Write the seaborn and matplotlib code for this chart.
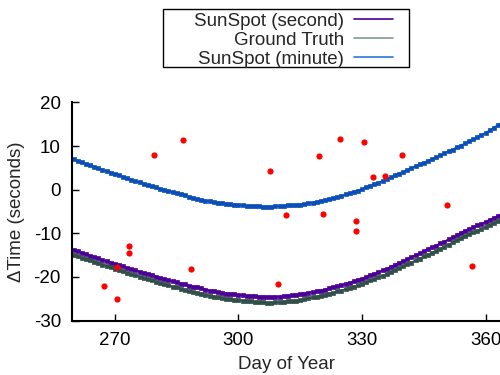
import numpy as np
import pandas as pd
import matplotlib
matplotlib.use('Agg')
import matplotlib.pyplot as plt
import seaborn as sns
from matplotlib.lines import Line2D
from matplotlib.patches import Rectangle

# 每日曲线 (day 260 - 364)
days = list(range(260, 365))

sunspot_second = [
    -13.8, -14.1, -14.5, -14.8, -15.1, -15.4, -15.7, -16.1, -16.4, -16.7,
    -17.0, -17.3, -17.6, -17.9, -18.2, -18.5, -18.8, -19.1, -19.4, -19.6,
    -19.9, -20.2, -20.5, -20.7, -21.0, -21.2, -21.5, -21.7, -22.0, -22.2,
    -22.4, -22.6, -22.9, -23.1, -23.3, -23.5, -23.6, -23.8, -23.9, -24.0,
    -24.1, -24.2, -24.3, -24.4, -24.4, -24.5, -24.5, -24.6, -24.6, -24.5,
    -24.5, -24.4, -24.3, -24.2, -24.1, -24.0, -23.8, -23.6, -23.5, -23.3,
    -23.1, -22.9, -22.6, -22.4, -22.1, -21.9, -21.6, -21.3, -21.0, -20.7,
    -20.4, -20.0, -19.6, -19.3, -18.9, -18.5, -18.1, -17.7, -17.2, -16.8,
    -16.4, -15.9, -15.5, -15.0, -14.6, -14.1, -13.7, -13.2, -12.8, -12.3,
    -11.9, -11.4, -10.9, -10.4, -9.9, -9.4, -9.0, -8.6, -8.2, -7.8,
    -7.4, -6.9, -6.5, -6.0, -5.5,
]

ground_truth = [
    -14.9, -15.2, -15.6, -15.9, -16.2, -16.5, -16.8, -17.2, -17.5, -17.8,
    -18.1, -18.4, -18.7, -19.0, -19.3, -19.6, -19.9, -20.2, -20.5, -20.8,
    -21.1, -21.4, -21.7, -21.9, -22.2, -22.4, -22.7, -22.9, -23.2, -23.4,
    -23.6, -23.8, -24.1, -24.3, -24.5, -24.7, -24.8, -25.0, -25.1, -25.2,
    -25.3, -25.4, -25.5, -25.6, -25.7, -25.8, -25.8, -25.9, -25.9, -25.8,
    -25.8, -25.7, -25.6, -25.5, -25.4, -25.3, -25.1, -24.9, -24.7, -24.5,
    -24.3, -24.1, -23.8, -23.6, -23.3, -23.1, -22.8, -22.5, -22.2, -21.9,
    -21.6, -21.2, -20.8, -20.5, -20.1, -19.7, -19.3, -18.9, -18.4, -18.0,
    -17.6, -17.1, -16.7, -16.2, -15.8, -15.3, -14.9, -14.4, -14.0, -13.5,
    -13.1, -12.6, -12.1, -11.6, -11.1, -10.6, -10.2, -9.8, -9.4, -9.0,
    -8.6, -8.1, -7.7, -7.2, -6.7,
]

sunspot_minute = [
    7.0, 6.6, 6.3, 5.9, 5.6, 5.2, 4.9, 4.6, 4.2, 3.9,
    3.6, 3.3, 2.9, 2.6, 2.3, 2.0, 1.7, 1.4, 1.1, 0.8,
    0.5, 0.2, 0.0, -0.3, -0.6, -0.8, -1.1, -1.3, -1.6, -1.8,
    -2.1, -2.3, -2.5, -2.7, -2.8, -3.0, -3.1, -3.2, -3.3, -3.4,
    -3.5, -3.6, -3.7, -3.7, -3.8, -3.8, -3.9, -3.9, -3.9, -3.8,
    -3.8, -3.7, -3.6, -3.6, -3.5, -3.4, -3.3, -3.1, -3.0, -2.8,
    -2.6, -2.4, -2.2, -1.9, -1.7, -1.4, -1.1, -0.8, -0.5, -0.2,
    0.1, 0.5, 0.9, 1.2, 1.6, 2.0, 2.4, 2.8, 3.3, 3.7,
    4.1, 4.5, 4.9, 5.4, 5.8, 6.2, 6.6, 7.0, 7.4, 7.9,
    8.3, 8.8, 9.2, 9.7, 10.1, 10.6, 11.1, 11.5, 12.0, 12.5,
    13.0, 13.6, 14.2, 14.8, 15.4,
]

# 红色测量点
sample_day = [267.4, 270.5, 270.5, 273.5, 273.5, 279.5, 286.6, 288.5, 307.6, 309.6, 311.6,
              319.6, 320.6, 324.6, 328.6, 328.6, 330.6, 332.6, 335.6, 339.6, 350.6, 356.7]
sample_dt = [-22.1, -25.1, -17.7, -13.0, -14.5, 7.9, 11.3, -18.2, 4.3, -21.7, -5.8,
             7.8, -5.6, 11.6, -7.1, -9.5, 11.0, 2.9, 3.1, 7.9, -3.4, -17.5]

series_names = ['SunSpot (second)', 'Ground Truth', 'SunSpot (minute)']
series_colors = ['#4b0096', '#2f4f48', '#0a4fb8']
legend_colors = ['#4b0096', '#7f9a90', '#2a78d8']

curves = pd.DataFrame({
    'day': days * 3,
    'dt': sunspot_second + ground_truth + sunspot_minute,
    'series': np.repeat(series_names, len(days)),
})
samples = pd.DataFrame({'day': sample_day, 'dt': sample_dt})

sns.set_style('ticks')
plt.rcParams['font.family'] = ['Liberation Sans', 'DejaVu Sans']
plt.rcParams['font.size'] = 13.5
plt.rcParams['axes.unicode_minus'] = False

W, H = 500, 375
fig = plt.figure(figsize=(5, 3.75), dpi=100)
ax = fig.add_axes([0.144, 0.145, 0.856, 0.582])

for name, color in zip(series_names, series_colors):
    sns.lineplot(data=curves[curves['series'] == name], x='day', y='dt', ax=ax,
                 color=color, linewidth=1.3, marker='s', markersize=2.8,
                 markeredgewidth=0.5, markeredgecolor=color, legend=False)

sns.scatterplot(data=samples, x='day', y='dt', ax=ax, color='#ff0000',
                s=20, linewidth=0, zorder=5, legend=False)

ax.set_xlim(259.6, 363.5)
ax.set_ylim(-30, 20)
ax.set_xticks([270, 300, 330, 360])
ax.set_yticks([-30, -20, -10, 0, 10, 20])
ax.tick_params(direction='in', length=5, width=1, labelsize=13.5, colors='black', pad=8)
ax.set_xlabel('Day of Year', fontsize=13.5, labelpad=5)
ax.set_ylabel('ΔTime (seconds)', fontsize=13.5, labelpad=6)
for side in ['top', 'right']:
    ax.spines[side].set_visible(False)
for side in ['left', 'bottom']:
    ax.spines[side].set_linewidth(1.5)
    ax.spines[side].set_color('black')

# 图例：文字右对齐，线段在右，外框单独画
handles = [Line2D([], [], color=c, linewidth=1.2) for c in legend_colors]
leg = fig.legend(handles, series_names, loc='upper right',
                 bbox_to_anchor=(393 / W, 1 - 12.5 / H), markerfirst=False, frameon=False,
                 fontsize=13.5, handlelength=2.1, handletextpad=0.5, labelspacing=0.1,
                 borderpad=0, borderaxespad=0)
fig.patches.append(Rectangle((163 / W, 1 - 67 / H), (409 - 163) / W, 58 / H,
                             transform=fig.transFigure, fill=False,
                             edgecolor='black', linewidth=1.0))

fig.savefig('out.png', dpi=100)
